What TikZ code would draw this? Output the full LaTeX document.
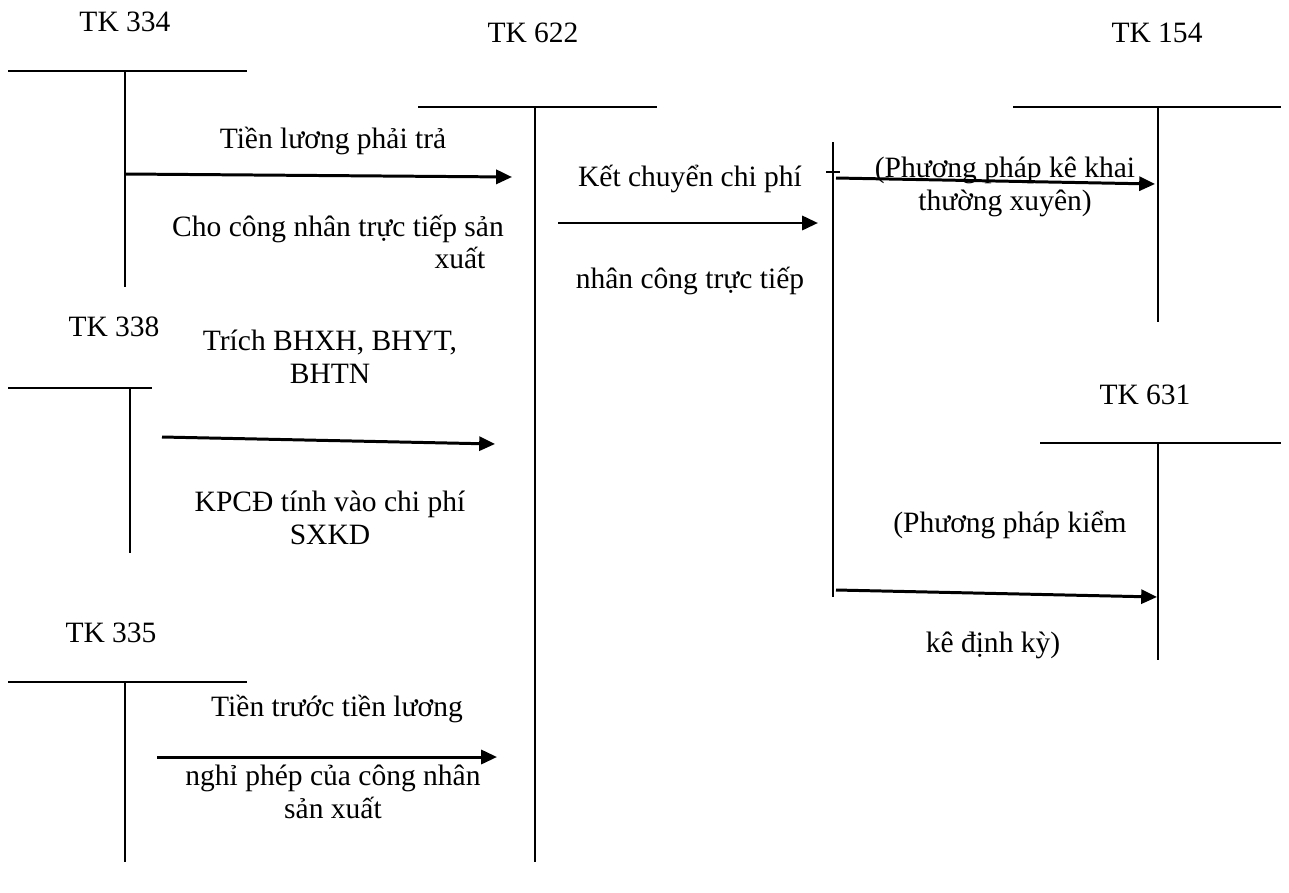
\documentclass[tikz,border=0pt]{standalone}
\usepackage{fontspec}
\setmainfont{Liberation Serif}
\usetikzlibrary{arrows.meta,positioning}
\tikzset{
  tacc/.style={line width=1.1pt},
  flow/.style={line width=1.7pt,-{Triangle[length=9pt,width=8pt]}},
  txt/.style={font=\fontsize{16.8}{19}\selectfont,align=center,inner sep=0pt},
}
\begin{document}
\begin{tikzpicture}[x=0.02cm,y=-0.02cm]
  \useasboundingbox (0,0) rectangle (1289,893);

  % T accounts
  \node[txt] (tk334) at (125,22) {TK 334};
  \draw[tacc] (8,71) -- (247,71);
  \draw[tacc] (125,71) coordinate (t334) -- (125,287) coordinate (b334);

  \node[txt] (tk622) at (533,33) {TK 622};
  \draw[tacc] (418,107) -- (657,107);
  \draw[tacc] (535,107) coordinate (t622) -- (535,862) coordinate (b622);

  \node[txt] (tk154) at (1157,33) {TK 154};
  \draw[tacc] (1013,107) -- (1281,107);
  \draw[tacc] (1158,107) coordinate (t154) -- (1158,322) coordinate (b154);

  \node[txt] (tk338) at (114,327) {TK 338};
  \draw[tacc] (8,388) -- (152,388);
  \draw[tacc] (130,388) coordinate (t338) -- (130,553) coordinate (b338);

  \node[txt] (tk631) at (1145,395) {TK 631};
  \draw[tacc] (1040,443) -- (1281,443);
  \draw[tacc] (1158,443) coordinate (t631) -- (1158,660) coordinate (b631);

  \node[txt] (tk335) at (111,633) {TK 335};
  \draw[tacc] (8,682) -- (247,682);
  \draw[tacc] (125,682) coordinate (t335) -- (125,862) coordinate (b335);

  % split line
  \draw[tacc] (833,142) coordinate (tsplit) -- (833,597) coordinate (bsplit);
  \draw[tacc] (826,172) -- (840,172);

  % entries into 622
  \coordinate (s334) at (125,174);
  \coordinate (e334) at (512,177);
  \draw[flow] (s334) -- (e334);
  \node[txt] (l334a) at (333,141) {Tiền lương phải trả};
  \node[txt] (l334b) at (338,229) {Cho công nhân trực tiếp sản};
  \node[txt] (l334c) at (460,258) {xuất};

  \coordinate (s338) at (162,437);
  \coordinate (e338) at (495,444);
  \draw[flow] (s338) -- (e338);
  \node[txt] (l338a) at (330,357) {Trích BHXH, BHYT,\\BHTN};
  \node[txt] (l338b) at (330,518) {KPCĐ tính vào chi phí\\SXKD};

  \coordinate (s335) at (157,757);
  \coordinate (e335) at (497,757);
  \draw[flow] (s335) -- (e335);
  \node[txt] (l335a) at (337,709) {Tiền trước tiền lương};
  \node[txt] (l335b) at (333,792) {nghỉ phép của công nhân\\sản xuất};

  % transfer out of 622
  \coordinate (s622) at (558,223);
  \coordinate (e622) at (818,223);
  \draw[flow] (s622) -- (e622);
  \node[txt] (l622a) at (690,179) {Kết chuyển chi phí};
  \node[txt] (l622b) at (690,281) {nhân công trực tiếp};

  \coordinate (s154) at (836,178);
  \coordinate (e154) at (1155,184);
  \draw[flow] (s154) -- (e154);
  \node[txt] (l154) at (1005,187) {(Phương pháp kê khai\\thường xuyên)};

  \coordinate (s631) at (836,590);
  \coordinate (e631) at (1157,597);
  \draw[flow] (s631) -- (e631);
  \node[txt] (l631a) at (1010,525) {(Phương pháp kiểm};
  \node[txt] (l631b) at (993,645) {kê định kỳ)};
\end{tikzpicture}
\end{document}
